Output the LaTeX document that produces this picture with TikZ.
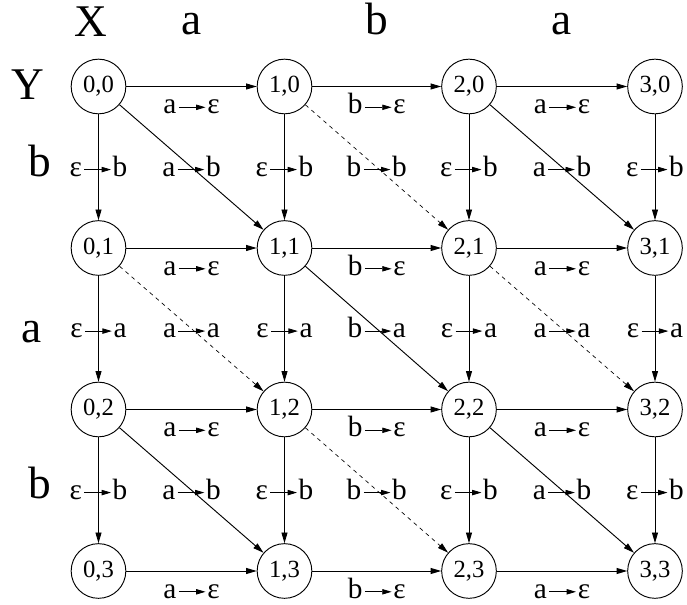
\documentclass[tikz,border=0pt]{standalone}
\usepackage{fontspec}
\setmainfont{Liberation Serif}
\usetikzlibrary{arrows.meta}

% small arrow inside the edge labels
\newcommand{\tr}[2]{#1\hspace{1.5pt}\tikz[baseline=-5pt]\draw[solid,line width=0.6pt,-{Triangle[length=7pt,width=4pt]}] (0pt,0pt) -- (20pt,0pt);\hspace{1pt}#2}

\begin{document}
\begin{tikzpicture}[x=0.75pt,y=-0.75pt,line width=0.7pt,
    st/.style={circle,draw,minimum size=41pt,inner sep=0pt,font=\fontsize{18.5}{20}\selectfont},
    big/.style={anchor=base,inner sep=0pt,font=\fontsize{34}{38}\selectfont},
    ed/.style={-{Triangle[length=8pt,width=4.5pt]}},
    eq/.style={ed,dash pattern=on 3pt off 3pt,line width=0.5pt},
    hl/.style={midway,anchor=base,inner sep=0pt,yshift=-20.6pt,font=\fontsize{22}{24}\selectfont},
    vl/.style={midway,anchor=base,inner sep=0pt,yshift=-6.75pt,font=\fontsize{22}{24}\selectfont}]

    \useasboundingbox (0,0) rectangle (687,605);

    % strings
    \node[big] (hx) at (91,37) {X};
    \node[big] (ha1) at (192,35) {a};
    \node[big] (hb) at (377,35) {b};
    \node[big] (ha2) at (562,35) {a};
    \node[big] (hy) at (28,100) {Y};
    \node[big] (hr1) at (40,177) {b};
    \node[big] (hr2) at (32,343) {a};
    \node[big] (hr3) at (40,499) {b};

    % states
    \node[st] (s00) at (98.5,86.5) {0,0};
    \node[st] (s10) at (284.5,86.5) {1,0};
    \node[st] (s20) at (469,86.5) {2,0};
    \node[st] (s30) at (655,86.5) {3,0};
    \node[st] (s01) at (98.5,248) {0,1};
    \node[st] (s11) at (284.5,248) {1,1};
    \node[st] (s21) at (469,248) {2,1};
    \node[st] (s31) at (655,248) {3,1};
    \node[st] (s02) at (98.5,409.5) {0,2};
    \node[st] (s12) at (284.5,409.5) {1,2};
    \node[st] (s22) at (469,409.5) {2,2};
    \node[st] (s32) at (655,409.5) {3,2};
    \node[st] (s03) at (98.5,571) {0,3};
    \node[st] (s13) at (284.5,571) {1,3};
    \node[st] (s23) at (469,571) {2,3};
    \node[st] (s33) at (655,571) {3,3};

    % deletions
    \draw[ed] (s00) -- node[hl] {\tr{a}{ε}} (s10);
    \draw[ed] (s10) -- node[hl] {\tr{b}{ε}} (s20);
    \draw[ed] (s20) -- node[hl] {\tr{a}{ε}} (s30);
    \draw[ed] (s01) -- node[hl] {\tr{a}{ε}} (s11);
    \draw[ed] (s11) -- node[hl] {\tr{b}{ε}} (s21);
    \draw[ed] (s21) -- node[hl] {\tr{a}{ε}} (s31);
    \draw[ed] (s02) -- node[hl] {\tr{a}{ε}} (s12);
    \draw[ed] (s12) -- node[hl] {\tr{b}{ε}} (s22);
    \draw[ed] (s22) -- node[hl] {\tr{a}{ε}} (s32);
    \draw[ed] (s03) -- node[hl] {\tr{a}{ε}} (s13);
    \draw[ed] (s13) -- node[hl] {\tr{b}{ε}} (s23);
    \draw[ed] (s23) -- node[hl] {\tr{a}{ε}} (s33);

    % insertions
    \draw[ed] (s00) -- node[vl] {\tr{ε}{b}} (s01);
    \draw[ed] (s10) -- node[vl] {\tr{ε}{b}} (s11);
    \draw[ed] (s20) -- node[vl] {\tr{ε}{b}} (s21);
    \draw[ed] (s30) -- node[vl] {\tr{ε}{b}} (s31);
    \draw[ed] (s01) -- node[vl] {\tr{ε}{a}} (s02);
    \draw[ed] (s11) -- node[vl] {\tr{ε}{a}} (s12);
    \draw[ed] (s21) -- node[vl] {\tr{ε}{a}} (s22);
    \draw[ed] (s31) -- node[vl] {\tr{ε}{a}} (s32);
    \draw[ed] (s02) -- node[vl] {\tr{ε}{b}} (s03);
    \draw[ed] (s12) -- node[vl] {\tr{ε}{b}} (s13);
    \draw[ed] (s22) -- node[vl] {\tr{ε}{b}} (s23);
    \draw[ed] (s32) -- node[vl] {\tr{ε}{b}} (s33);

    % substitutions (dashed = match)
    \draw[ed] (s00) -- node[vl] {\tr{a}{b}} (s11);
    \draw[eq] (s10) -- node[vl] {\tr{b}{b}} (s21);
    \draw[ed] (s20) -- node[vl] {\tr{a}{b}} (s31);
    \draw[eq] (s01) -- node[vl] {\tr{a}{a}} (s12);
    \draw[ed] (s11) -- node[vl] {\tr{b}{a}} (s22);
    \draw[eq] (s21) -- node[vl] {\tr{a}{a}} (s32);
    \draw[ed] (s02) -- node[vl] {\tr{a}{b}} (s13);
    \draw[eq] (s12) -- node[vl] {\tr{b}{b}} (s23);
    \draw[ed] (s22) -- node[vl] {\tr{a}{b}} (s33);

\end{tikzpicture}
\end{document}
